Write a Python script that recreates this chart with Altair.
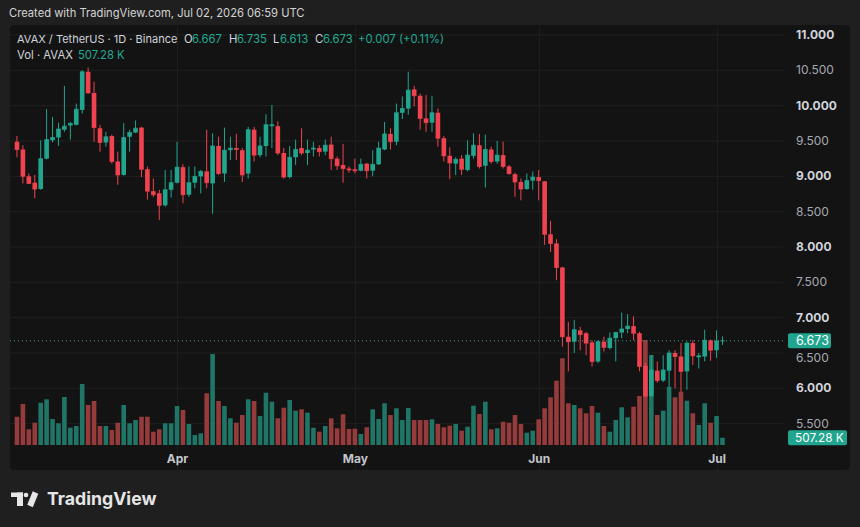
import altair as alt
import pandas as pd

# ---------------- data ----------------
dates = pd.date_range("2026-03-05", periods=120, freq="D").strftime("%Y-%m-%d").tolist()

opens = [9.49, 9.38, 9.00, 8.91, 8.82, 9.25, 9.51, 9.55, 9.66, 9.72,
         9.73, 9.94, 10.48, 10.18, 9.68, 9.48, 9.57, 9.21, 9.02, 9.56,
         9.62, 9.69, 9.10, 8.79, 8.76, 8.59, 8.81, 8.91, 9.13, 8.74,
         8.91, 9.00, 9.07, 8.90, 9.43, 9.04, 9.37, 9.40, 9.37, 9.04,
         9.66, 9.30, 9.43, 9.71, 9.71, 9.33, 8.99, 9.27, 9.40, 9.33,
         9.38, 9.40, 9.35, 9.45, 9.25, 9.16, 9.11, 9.10, 9.08, 9.18,
         9.08, 9.17, 9.38, 9.60, 9.49, 9.90, 9.96, 10.23, 10.14, 9.82,
         9.76, 9.90, 9.54, 9.29, 9.18, 9.25, 9.09, 9.29, 9.44, 9.15,
         9.38, 9.21, 9.30, 9.14, 9.03, 8.92, 8.82, 8.94, 8.99, 8.93,
         8.18, 8.05, 7.71, 6.73, 6.66, 6.82, 6.78, 6.65, 6.38, 6.66,
         6.57, 6.71, 6.79, 6.84, 6.88, 6.78, 6.32, 5.89, 6.25, 6.11,
         6.25, 6.50, 6.45, 6.24, 6.64, 6.44, 6.45, 6.68, 6.54, 6.667]

highs = [9.57, 9.44, 9.04, 9.02, 9.51, 9.95, 9.84, 9.76, 10.28, 9.77,
         10.03, 10.50, 10.54, 10.34, 9.73, 9.63, 9.59, 9.35, 9.75, 9.66,
         9.79, 9.70, 9.14, 8.97, 8.81, 9.09, 9.09, 9.49, 9.17, 9.14,
         9.14, 9.09, 9.66, 9.61, 9.56, 9.69, 9.56, 9.60, 9.40, 9.70,
         9.70, 9.56, 9.88, 10.01, 9.78, 9.40, 9.43, 9.52, 9.68, 9.52,
         9.49, 9.44, 9.52, 9.56, 9.28, 9.46, 9.14, 9.25, 9.25, 9.19,
         9.37, 9.49, 9.77, 9.68, 10.03, 10.13, 10.48, 10.28, 10.17, 10.15,
         10.14, 9.96, 9.57, 9.41, 9.27, 9.30, 9.51, 9.61, 9.60, 9.59,
         9.42, 9.50, 9.49, 9.16, 9.05, 8.97, 9.04, 9.07, 9.09, 8.93,
         8.37, 8.11, 7.72, 6.94, 6.97, 6.87, 6.80, 6.68, 6.68, 6.73,
         6.79, 6.80, 7.07, 7.05, 7.02, 6.80, 6.36, 6.47, 6.38, 6.47,
         6.54, 6.54, 6.64, 6.66, 6.68, 6.50, 6.83, 6.69, 6.82, 6.735]

lows = [9.27, 8.90, 8.89, 8.69, 8.81, 9.24, 9.48, 9.43, 9.63, 9.52,
        9.72, 9.89, 10.17, 9.49, 9.35, 9.42, 9.18, 8.88, 9.01, 9.35,
        9.61, 8.99, 8.67, 8.71, 8.38, 8.57, 8.70, 8.90, 8.62, 8.71,
        8.83, 8.76, 8.83, 8.47, 9.02, 8.92, 9.23, 9.23, 8.92, 8.97,
        9.21, 9.27, 9.28, 9.40, 9.30, 8.97, 8.97, 9.16, 9.30, 9.16,
        9.28, 9.28, 9.30, 9.09, 9.09, 8.91, 9.05, 9.04, 9.07, 8.97,
        9.00, 9.16, 9.37, 9.38, 9.44, 9.81, 9.87, 9.99, 9.66, 9.63,
        9.63, 9.42, 9.21, 8.96, 9.02, 9.02, 9.07, 9.25, 9.11, 8.84,
        9.18, 9.18, 9.11, 9.02, 8.71, 8.66, 8.81, 8.81, 8.66, 8.03,
        7.93, 7.53, 6.59, 6.24, 6.50, 6.54, 6.47, 6.31, 6.36, 6.52,
        6.55, 6.38, 6.71, 6.78, 6.68, 6.24, 5.88, 5.88, 6.08, 6.09,
        6.02, 6.00, 5.95, 5.98, 6.33, 6.28, 6.38, 6.39, 6.43, 6.613]

closes = [9.38, 9.00, 8.90, 8.82, 9.25, 9.52, 9.55, 9.67, 9.71, 9.75,
          9.95, 10.48, 10.18, 9.69, 9.48, 9.56, 9.21, 9.02, 9.55, 9.62,
          9.68, 9.10, 8.79, 8.74, 8.59, 8.81, 8.91, 9.13, 8.74, 8.91,
          9.00, 9.07, 8.91, 9.43, 9.04, 9.37, 9.40, 9.38, 9.02, 9.66,
          9.30, 9.43, 9.73, 9.73, 9.33, 8.99, 9.27, 9.38, 9.33, 9.37,
          9.40, 9.35, 9.44, 9.25, 9.15, 9.11, 9.09, 9.08, 9.17, 9.08,
          9.17, 9.40, 9.60, 9.49, 9.90, 9.96, 10.22, 10.14, 9.82, 9.76,
          9.90, 9.54, 9.29, 9.19, 9.24, 9.10, 9.30, 9.44, 9.14, 9.38,
          9.21, 9.30, 9.14, 9.04, 8.92, 8.82, 8.94, 8.99, 8.94, 8.18,
          8.05, 7.71, 6.73, 6.66, 6.83, 6.76, 6.64, 6.38, 6.66, 6.58,
          6.71, 6.79, 6.84, 6.88, 6.78, 6.31, 5.89, 6.26, 6.11, 6.26,
          6.50, 6.45, 6.24, 6.64, 6.46, 6.46, 6.68, 6.54, 6.67, 6.673]

volumes_k = [1981, 2870, 1099, 1561, 2961, 3199, 1820, 1519, 3360, 1211,
             1330, 4270, 2800, 3080, 1330, 1330, 1050, 1561, 2800, 1519,
             1750, 1981, 1981, 931, 1099, 1519, 1519, 2730, 2450, 1470,
             700, 819, 3619, 6370, 3080, 2730, 1869, 1561, 2100, 3199,
             3080, 2030, 3661, 3031, 1869, 2611, 3150, 2401, 2499, 2261,
             1211, 931, 1330, 1869, 1169, 2149, 1120, 1141, 770, 1239,
             2499, 1820, 2919, 2100, 2569, 1750, 2590, 1750, 1750, 1750,
             1799, 1470, 1239, 1351, 1470, 1001, 1281, 2751, 2170, 3031,
             1099, 1169, 1631, 1561, 2100, 1470, 861, 1001, 1799, 2569,
             3339, 4501, 6069, 2919, 2800, 2569, 2219, 2730, 2261, 1330,
             931, 1750, 2639, 1939, 2681, 3430, 7350, 6300, 2100, 2401,
             4081, 3339, 3731, 3101, 2219, 1400, 2919, 1561, 2030, 507.28]

price_ticks = [5.5, 6.0, 6.5, 7.0, 7.5, 8.0, 8.5, 9.0, 9.5, 10.0, 10.5, 11.0]
month_starts = [4, 5, 6, 7]

df = pd.DataFrame({"date": dates, "open": opens, "high": highs, "low": lows,
                   "close": closes, "vol": volumes_k})

# ---------------- styling ----------------
UP, DOWN = "#22a58e", "#f0434f"
VUP, VDOWN = "#1f7566", "#963b3b"
FONT = "Inter"
W, H = 840, 445
PX_PER_UNIT = 70.67
P_HI = 11 + 10 / PX_PER_UNIT
P_LO = P_HI - H / PX_PER_UNIT
K_PER_PX = 70.0

price_scale = alt.Scale(domain=[P_LO, P_HI], zero=False, nice=False)
vol_scale = alt.Scale(domain=[-25 * K_PER_PX, (H - 25) * K_PER_PX], zero=False, nice=False)
x_scale = alt.Scale(type="utc", domain=[
    alt.DateTime(year=2026, month=3, date=4, hours=16, utc=True),
    alt.DateTime(year=2026, month=7, date=22, hours=16, utc=True)])

x_axis = alt.Axis(
    values=[alt.DateTime(year=2026, month=m, date=1, utc=True) for m in month_starts],
    labelExpr="utcFormat(datum.value, '%b')", grid=True, gridColor="#1d1d1d",
    domain=False, ticks=False, labelColor="#c3c5cc", labelFont=FONT,
    labelFontSize=12, labelFontWeight="bold", labelPadding=2, offset=-19,
    title=None, labelFlush=False, labelOverlap=False)

is_up = "datum.close >= datum.open"
X = alt.X("date:T", scale=x_scale, axis=x_axis)

hgrid = alt.Chart(pd.DataFrame({"p": price_ticks})).mark_rule(
    color="#202020", strokeWidth=1).encode(
    y=alt.Y("p:Q", scale=price_scale, axis=None), x=alt.value(0), x2=alt.value(773))

volume = alt.Chart(df).mark_bar(width=4.6).encode(
    x=X, y=alt.Y("vol:Q", scale=vol_scale, axis=None), y2=alt.datum(0),
    color=alt.condition(is_up, alt.value(VUP), alt.value(VDOWN)))

wicks = alt.Chart(df).mark_rule(strokeWidth=1).encode(
    x=X, y=alt.Y("low:Q", scale=price_scale, axis=None), y2="high:Q",
    color=alt.condition(is_up, alt.value(UP), alt.value(DOWN)))

bodies = alt.Chart(df).mark_bar(width=4.6).encode(
    x=X, y=alt.Y("open:Q", scale=price_scale, axis=None), y2="close:Q",
    color=alt.condition(is_up, alt.value(UP), alt.value(DOWN)))

flats = alt.Chart(df).mark_tick(orient="horizontal", thickness=1, size=4.6).encode(
    x=X, y=alt.Y("close:Q", scale=price_scale, axis=None),
    color=alt.condition(is_up, alt.value(UP), alt.value(DOWN)))

last_close = closes[-1]
last_vol = volumes_k[-1]

cur_line = alt.Chart(pd.DataFrame({"p": [last_close]})).mark_rule(
    strokeDash=[1, 3], color="#4f9c8e", strokeWidth=1).encode(
    y=alt.Y("p:Q", scale=price_scale, axis=None), x=alt.value(0), x2=alt.value(776))

tick_df = pd.DataFrame({"p": price_ticks})
tick_df["lab"] = [f"{v:.3f}" for v in price_ticks]
tick_df["major"] = [float(v).is_integer() for v in price_ticks]

major_labels = alt.Chart(tick_df).transform_filter("datum.major").mark_text(
    align="left", baseline="middle", font=FONT, fontSize=12, fontWeight="bold",
    color="#d1d4dc").encode(y=alt.Y("p:Q", scale=price_scale, axis=None),
                            x=alt.value(786), text="lab:N")
minor_labels = alt.Chart(tick_df).transform_filter("!datum.major && datum.p != 6.5").mark_text(
    align="left", baseline="middle", font=FONT, fontSize=12,
    color="#a6a9b2").encode(y=alt.Y("p:Q", scale=price_scale, axis=None),
                            x=alt.value(786), text="lab:N")
shifted_label = alt.Chart(tick_df).transform_filter("datum.p == 6.5").mark_text(
    align="left", baseline="middle", font=FONT, fontSize=12, dy=5,
    color="#a6a9b2").encode(y=alt.Y("p:Q", scale=price_scale, axis=None),
                            x=alt.value(786), text="lab:N")

price_box_df = pd.DataFrame({"p": [last_close], "lab": [f"{last_close:.3f}"]})
price_box = alt.Chart(price_box_df).transform_calculate(
    top=f"datum.p + {7.5 / PX_PER_UNIT}", bot=f"datum.p - {7.5 / PX_PER_UNIT}").mark_rect(
    color=UP, cornerRadius=2).encode(
    y=alt.Y("top:Q", scale=price_scale, axis=None), y2="bot:Q",
    x=alt.value(778), x2=alt.value(821))
price_box_txt = alt.Chart(price_box_df).mark_text(
    align="left", baseline="middle", font=FONT, fontSize=12.5, color="#ffffff").encode(
    y=alt.Y("p:Q", scale=price_scale, axis=None), x=alt.value(786), text="lab:N")

vol_box_df = pd.DataFrame({"v": [last_vol], "lab": ["507.28 K"]})
vol_box = alt.Chart(vol_box_df).transform_calculate(
    top=f"datum.v + {7.5 * K_PER_PX}", bot=f"datum.v - {7.5 * K_PER_PX}").mark_rect(
    color=UP, cornerRadius=2).encode(
    y=alt.Y("top:Q", scale=vol_scale, axis=None), y2="bot:Q",
    x=alt.value(778), x2=alt.value(837))
vol_box_txt = alt.Chart(vol_box_df).mark_text(
    align="left", baseline="middle", font=FONT, fontSize=11.8, color="#ffffff").encode(
    y=alt.Y("v:Q", scale=vol_scale, axis=None), x=alt.value(785), text="lab:N")


def txt(s, x, y, color, size=12, weight="normal"):
    return alt.Chart(pd.DataFrame({"t": [s]})).mark_text(
        align="left", baseline="middle", font=FONT, fontSize=size,
        fontWeight=weight, color=color).encode(
        text="t:N", x=alt.value(x), y=alt.value(y))


LBL, VAL = "#d1d4dc", "#22ab94"
HS = 11.3
texts = [
    txt("Created with TradingView.com, Jul 02, 2026 06:59 UTC", -1, -11, "#d4d4d4", 11.2),
    txt("AVAX / TetherUS · 1D · Binance", 7, 15, LBL, 11.0),
    txt("O", 174, 15, LBL, HS), txt(f"{opens[-1]:.3f}", 182, 15, VAL, HS),
    txt("H", 219, 15, LBL, HS), txt(f"{highs[-1]:.3f}", 227, 15, VAL, HS),
    txt("L", 263, 15, LBL, HS), txt(f"{lows[-1]:.3f}", 270, 15, VAL, HS),
    txt("C", 305, 15, LBL, HS), txt(f"{closes[-1]:.3f}", 313, 15, VAL, HS),
    txt("+0.007 (+0.11%)", 348, 15, VAL, HS),
    txt("Vol · AVAX", 7, 31, LBL, HS), txt("507.28 K", 68, 31, VAL, HS),
    txt("TradingView", 37, 475, "#e6e6e6", 17.7, "bold"),
]

LOGO = "#e6e6e6"
logo_bar = alt.Chart(pd.DataFrame({"a": [0]})).mark_rect(color=LOGO).encode(
    x=alt.value(1), x2=alt.value(13), y=alt.value(467.5), y2=alt.value(472))
logo_stem = alt.Chart(pd.DataFrame({"a": [0]})).mark_rect(color=LOGO).encode(
    x=alt.value(7), x2=alt.value(13), y=alt.value(467.5), y2=alt.value(481))
logo_dot = alt.Chart(pd.DataFrame({"a": [0]})).mark_circle(color=LOGO, opacity=1, size=22).encode(
    x=alt.value(16), y=alt.value(470))
logo_slash = alt.Chart(pd.DataFrame({"a": [0]})).mark_rule(
    color=LOGO, strokeWidth=6, strokeCap="butt").encode(
    x=alt.value(25.5), y=alt.value(467.5), x2=alt.value(20), y2=alt.value(481))

chart = alt.layer(
    hgrid, volume, wicks, bodies, flats, cur_line,
    major_labels, minor_labels, shifted_label,
    price_box, price_box_txt, vol_box, vol_box_txt,
    logo_bar, logo_stem, logo_dot, logo_slash, *texts
).resolve_scale(y="independent").properties(
    width=W, height=H,
    padding={"left": 10, "top": 25, "right": 10, "bottom": 57},
    autosize=alt.AutoSizeParams(type="none"),
    background="#1f1f1f",
).configure_view(fill="#131313", stroke=None, cornerRadius=4)

chart.save("out.html", embed_options={"renderer": "svg", "actions": False})
